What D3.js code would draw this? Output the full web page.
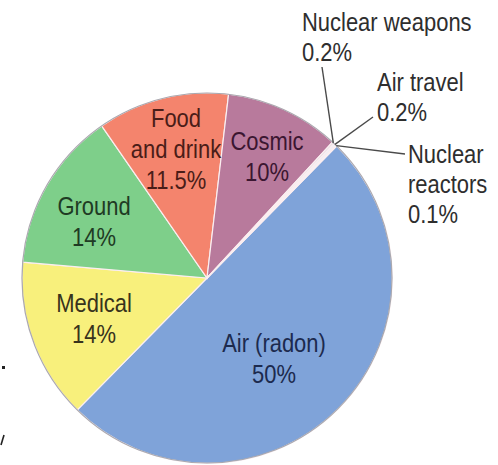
<!DOCTYPE html>
<html>
<head>
<meta charset="utf-8">
<script src="https://cdn.jsdelivr.net/npm/d3@7"></script>
<style>
  body { margin: 0; background: #fff; }
  svg text { font-family: "Liberation Sans", Arial, sans-serif; font-size: 26px; }
</style>
</head>
<body>
<svg width="498" height="465"></svg>
<script>
// data
var sources = ['Air (radon)', 'Medical', 'Ground', 'Food and drink', 'Cosmic', 'Nuclear weapons', 'Air travel', 'Nuclear reactors'];
var percents = [50, 14, 14, 11.5, 10, 0.2, 0.2, 0.1];
var percentLabels = ['50%', '14%', '14%', '11.5%', '10%', '0.2%', '0.2%', '0.1%'];
var labelLines = [['Air (radon)'], ['Medical'], ['Ground'], ['Food', 'and drink'], ['Cosmic'],
                  ['Nuclear weapons'], ['Air travel'], ['Nuclear', 'reactors']];

var fills = ['#7fa3d9', '#f8f07c', '#7ecf8a', '#f4846d', '#b87a9c', '#e9dfe6', '#eef0f6', '#e6ecf6'];
var inkColors = ['#1c2a4e', '#38331c', '#1f3b24', '#4a1d18', '#3b1631', '#333', '#333', '#333'];

// the reference uses a condensed face, so squeeze the glyphs horizontally
var squeeze = 0.845;

function main() {
	var svg = d3.select('svg'),
	cx = 207, cy = 278,
	radius = 185;

	var g = svg.append('g')
			.attr('transform', 'translate(' + cx + ',' + cy + ')');

	var data = sources.map(function(s, i) {
		return {source: s, value: percents[i], pct: percentLabels[i], lines: labelLines[i]};
	});

	var pie = d3.pie()
			.sort(null)
			.value(function(d) { return d.value; })
			.startAngle(44.5 * Math.PI / 180)
			.endAngle(44.5 * Math.PI / 180 + 2 * Math.PI);

	var path = d3.arc()
			.outerRadius(radius)
			.innerRadius(0);

	var arcs = pie(data);

	g.selectAll('path.slice')
		.data(arcs)
		.enter().append('path')
		.attr('class', 'slice')
		.attr('d', path)
		.attr('fill', function(d, i) { return fills[i]; })
		.attr('stroke', '#fbeef0')
		.attr('stroke-width', 1.2);

	// soft grey rim
	g.append('circle')
		.attr('r', radius)
		.attr('fill', 'none')
		.attr('stroke', '#a9a9b0')
		.attr('stroke-width', 1.2);

	function label(x, y, lines, lh, anchor, color) {
		var t = svg.append('text')
			.attr('transform', 'translate(' + x + ',' + y + ') scale(' + squeeze + ',1)')
			.attr('text-anchor', anchor)
			.attr('fill', color);
		lines.forEach(function(l, k) {
			t.append('tspan')
				.attr('x', 0)
				.attr('y', k * lh)
				.text(l);
		});
	}

	// labels inside big slices
	var inside = [[274, 352], [94, 312], [94, 215], [176, 127], [267, 150]];
	inside.forEach(function(p, i) {
		var d = data[i];
		label(p[0], p[1], d.lines.concat([d.pct]), 31, 'middle', inkColors[i]);
	});

	// small slices: leader lines from rim to labels outside
	var outside = [
		{tx: 302, ty: 31, lx: 322, ly: 67},
		{tx: 377, ty: 91, lx: 373, ly: 117},
		{tx: 408, ty: 163, lx: 405, ly: 154}
	];
	outside.forEach(function(o, j) {
		var a = arcs[5 + j];
		var mid = (a.startAngle + a.endAngle) / 2;
		var x0 = cx + radius * Math.sin(mid),
		    y0 = cy - radius * Math.cos(mid);
		svg.append('line')
			.attr('x1', x0).attr('y1', y0)
			.attr('x2', o.lx).attr('y2', o.ly)
			.attr('stroke', '#4a4a4a')
			.attr('stroke-width', 1.4);
		var d = data[5 + j];
		label(o.tx, o.ty, d.lines.concat([d.pct]), 30, 'start', '#2e2e2e');
	});

	// cropped fragments at the left margin
	svg.append('rect').attr('x', 2).attr('y', 366).attr('width', 3).attr('height', 3).attr('fill', '#222');
	svg.append('line').attr('x1', 1).attr('y1', 445).attr('x2', 4).attr('y2', 435)
		.attr('stroke', '#222').attr('stroke-width', 1.6);
}
main();
</script>
</body>
</html>
